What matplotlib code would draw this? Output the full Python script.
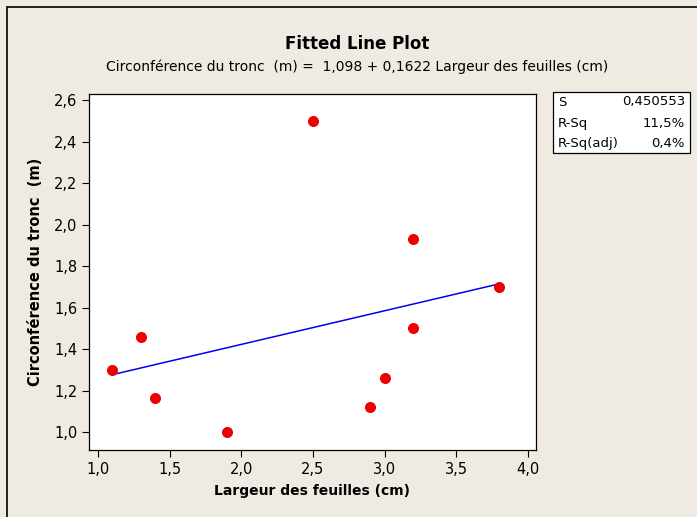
import matplotlib
matplotlib.use("Agg")
import matplotlib.pyplot as plt
import numpy as np
from matplotlib.patches import Rectangle
from matplotlib.ticker import FuncFormatter

# data
largeur = [1.1, 1.3, 1.4, 1.9, 2.5, 2.9, 3.0, 3.2, 3.2, 3.8]
circonf = [1.30, 1.46, 1.165, 1.0, 2.5, 1.12, 1.26, 1.93, 1.50, 1.70]
intercept = 1.098
slope = 0.1622
stats_names = ["S", "R-Sq", "R-Sq(adj)"]
stats_values = ["0,450553", "11,5%", "0,4%"]

bg = "#EFEBE2"
plt.rcParams['font.family'] = ['DejaVu Sans']

fig = plt.figure(figsize=(6.97, 5.17), dpi=100, facecolor=bg)
ax = fig.add_axes([0.1277, 0.1296, 0.641, 0.688])
ax.set_facecolor("white")

xfit = np.array([min(largeur), max(largeur)])
ax.plot(xfit, intercept + slope * xfit, color="#0000EE", lw=1.1, zorder=2)
ax.scatter(largeur, circonf, s=48, color="#EE0000", zorder=3)

ax.set_xlim(0.937, 4.056)
ax.set_ylim(0.913, 2.629)
ax.set_xticks(np.arange(1.0, 4.01, 0.5))
ax.set_yticks(np.arange(1.0, 2.61, 0.2))
comma = FuncFormatter(lambda v, p: ("%.1f" % v).replace(".", ","))
ax.xaxis.set_major_formatter(comma)
ax.yaxis.set_major_formatter(comma)
ax.tick_params(direction="out", length=5, width=0.8, labelsize=10.5, colors="black")
for sp in ax.spines.values():
    sp.set_linewidth(0.9)

ax.set_xlabel("Largeur des feuilles (cm)", fontsize=10, fontweight="bold", labelpad=5)
ax.set_ylabel("Circonférence du tronc  (m)", fontsize=10.5, fontweight="bold", labelpad=8)

fig.text(0.512, 1 - 44 / 517, "Fitted Line Plot", ha="center", va="center",
         fontsize=12, fontweight="bold")
fig.text(0.512, 1 - 67 / 517,
         "Circonférence du tronc  (m) =  1,098 + 0,1622 Largeur des feuilles (cm)",
         ha="center", va="center", fontsize=10)

# stats box
W, H = 697.0, 517.0
fig.patches.append(Rectangle((553 / W, 1 - 153 / H), 137 / W, 61 / H,
                             transform=fig.transFigure, facecolor="white",
                             edgecolor="black", lw=0.9))
for i, (n, v) in enumerate(zip(stats_names, stats_values)):
    yy = 1 - (102 + 21 * i) / H
    fig.text(558 / W, yy, n, ha="left", va="center", fontsize=9.5)
    fig.text(685 / W, yy, v, ha="right", va="center", fontsize=9.5)

# outer frame
fig.patches.append(Rectangle((7 / W, -0.01), 1.0, 1 - 7 / H + 0.01,
                             transform=fig.transFigure, facecolor="none",
                             edgecolor="black", lw=1.2))

fig.savefig("out.png", dpi=100, facecolor=bg)
